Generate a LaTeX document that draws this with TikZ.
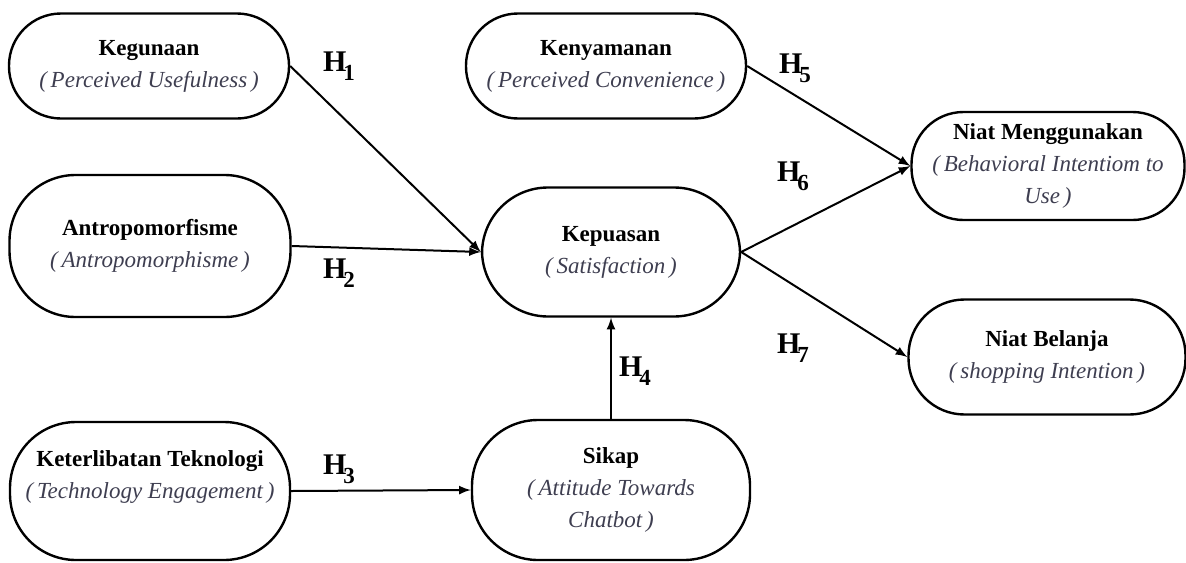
\documentclass[tikz,border=0pt]{standalone}
\usepackage{fontspec}
\setmainfont{Liberation Serif}
\usetikzlibrary{arrows}
\definecolor{subgray}{RGB}{62,62,80}
\newcommand{\eng}[1]{{\color{subgray}\itshape #1}}
\newcommand{\hyp}[1]{{\fontsize{15}{15}\selectfont\bfseries H\kern-1.5pt\raisebox{-4.5pt}{\fontsize{11.5}{11.5}\selectfont#1}}}

\begin{document}
\begin{tikzpicture}[x=0.5pt,y=-0.5pt,
    construct/.style={draw,line width=1.2pt,rounded corners=26pt,align=center,inner sep=2pt,font=\fontsize{11.5}{16}\selectfont},
    tall/.style={rounded corners=33pt},
    conn/.style={-latex,line width=1pt},
    hlabel/.style={inner sep=0pt}]
        \useasboundingbox (0,0) rectangle (1186,562);
        \node[construct,minimum width=140pt,minimum height=52.5pt](kegunaan)at(149,66){\textbf{Kegunaan}\\\eng{(\,Perceived Usefulness\,)}};
        \node[construct,minimum width=140pt,minimum height=52.5pt](kenyamanan)at(606,66){\textbf{Kenyamanan}\\\eng{(\,Perceived Convenience\,)}};
        \node[construct,tall,minimum width=140.5pt,minimum height=71pt](antro)at(150,246){\textbf{Antropomorfisme}\\\eng{(\,Antropomorphisme\,)}};
        \node[construct,tall,minimum width=129pt,minimum height=64.5pt](kepuasan)at(611,252){\textbf{Kepuasan}\\\eng{(\,Satisfaction\,)}};
        \node[construct,minimum width=136.5pt,minimum height=54pt](niatguna)at(1048,166){\textbf{Niat Menggunakan}\\\eng{(\,Behavioral Intentiom to}\\\eng{Use\,)}};
        \node[construct,minimum width=138.5pt,minimum height=57.5pt,rounded corners=28pt](niatbelanja)at(1047,357){\textbf{Niat Belanja}\\\eng{(\,shopping Intention\,)}};
        \node[construct,tall,minimum width=140pt,minimum height=69pt](teknologi)at(150,491){\textbf{Keterlibatan Teknologi}\\\eng{(\,Technology Engagement\,)}\\\mbox{}};
        \node[construct,tall,minimum width=139pt,minimum height=70pt](sikap)at(611,490){\textbf{Sikap}\\\eng{(\,Attitude Towards}\\\eng{Chatbot\,)}};
        \node[hlabel](h1)at(339,66){\hyp{1}};
        \node[hlabel](h2)at(339,273){\hyp{2}};
        \node[hlabel](h3)at(339,469){\hyp{3}};
        \node[hlabel](h4)at(635,371){\hyp{4}};
        \node[hlabel](h5)at(795,68){\hyp{5}};
        \node[hlabel](h6)at(793,176){\hyp{6}};
        \node[hlabel](h7)at(793,348){\hyp{7}};
        \draw[conn](kegunaan.east)--(kepuasan.west);
        \draw[conn](antro.east)--(kepuasan.west);
        \draw[conn](teknologi.east)--(sikap.west);
        \draw[conn](sikap.north)--(kepuasan.south);
        \draw[conn](kenyamanan.east)--(niatguna.west);
        \draw[conn](kepuasan.east)--(niatguna.west);
        \draw[conn](kepuasan.east)--(niatbelanja.west);
    \end{tikzpicture}
\end{document}
